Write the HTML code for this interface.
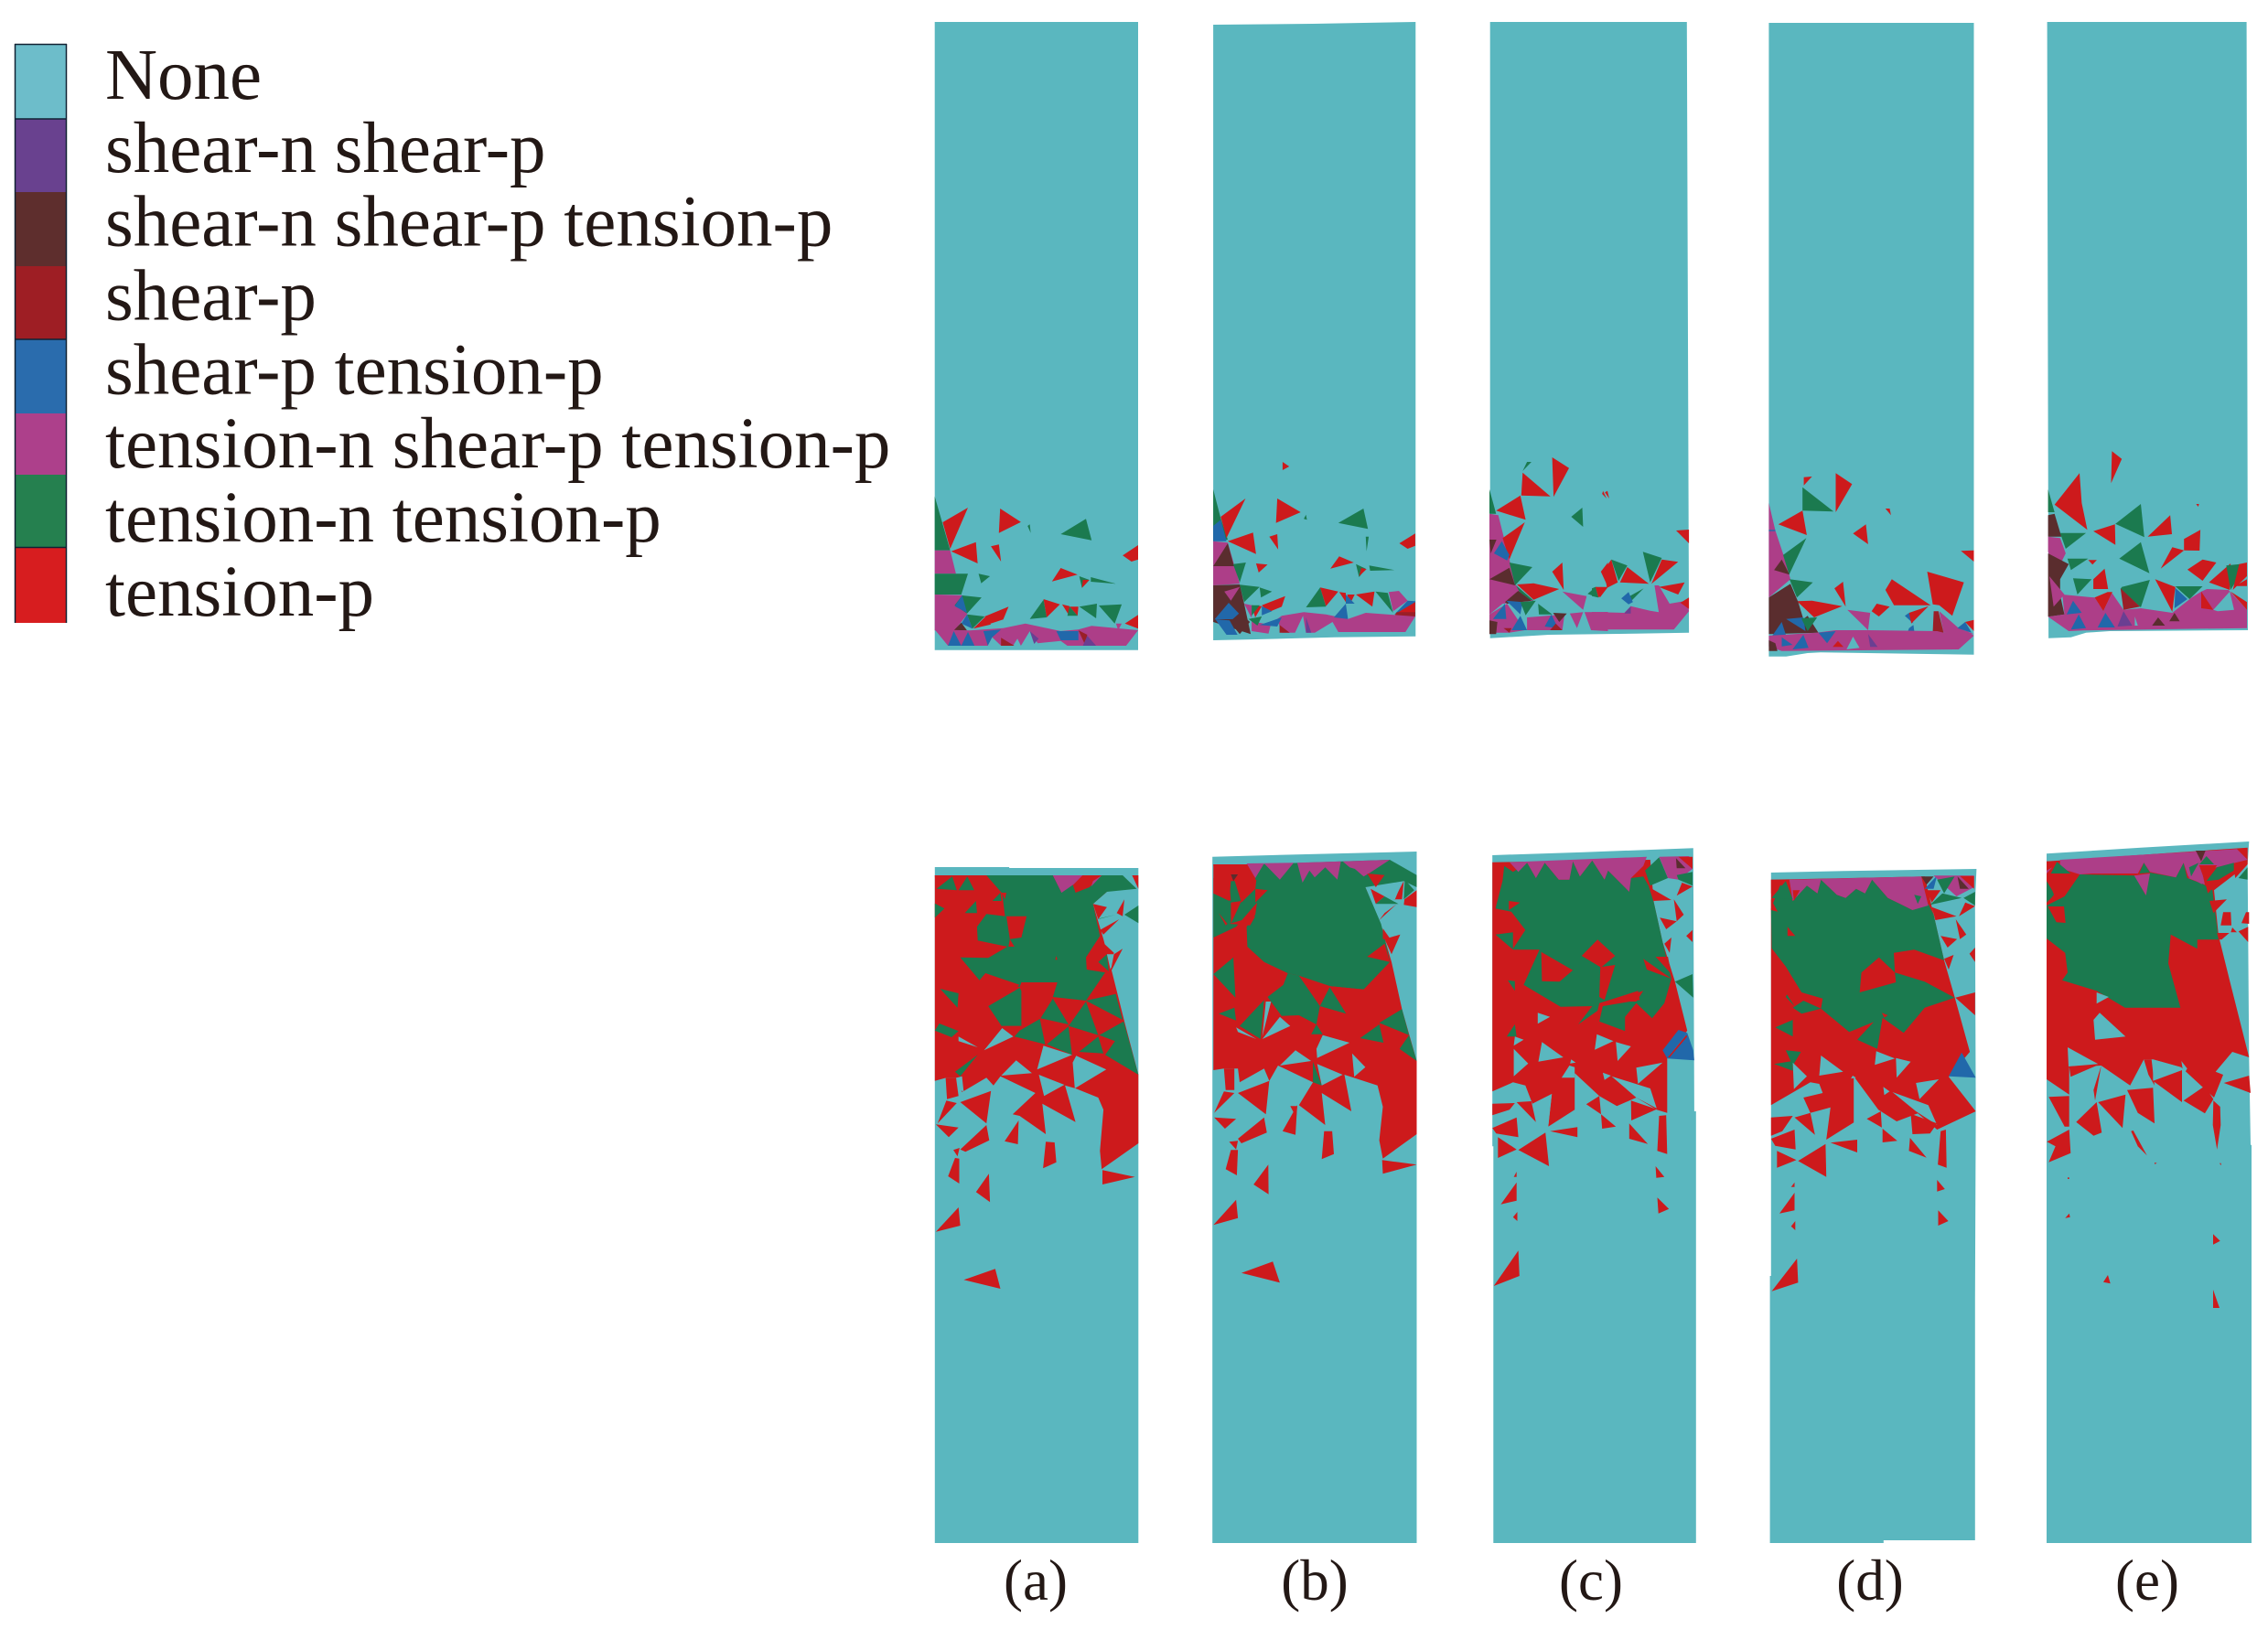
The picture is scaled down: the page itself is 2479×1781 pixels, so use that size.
<!DOCTYPE html>
<html lang="en">
<head>
<meta charset="utf-8">
<title>Failure state distribution</title>
<style>
html,body{margin:0;padding:0;background:#fff;width:2479px;height:1781px;overflow:hidden}
svg{display:block}
text{font-family:"Liberation Serif",serif;fill:#231815}
.lg{font-size:79px}
.cap{font-size:63px;text-anchor:middle}
</style>
</head>
<body>
<svg id="figure" xmlns="http://www.w3.org/2000/svg" width="2479" height="1781" viewBox="0 0 2479 1781">
<rect width="2479" height="1781" fill="#fff"/>
<g>
<rect x="16" y="48" width="57" height="82" fill="#6dbdca"/>
<rect x="16" y="130" width="57" height="80" fill="#69418f"/>
<rect x="16" y="210" width="57" height="81" fill="#5e2e2d"/>
<rect x="16" y="291" width="57" height="80" fill="#9e1e24"/>
<rect x="16" y="371" width="57" height="81" fill="#2a6cad"/>
<rect x="16" y="452" width="57" height="67" fill="#ad408b"/>
<rect x="16" y="519" width="57" height="80" fill="#25804f"/>
<rect x="16" y="599" width="57" height="82" fill="#d71d1f"/>
<path d="M16.5 48V681M72.500 48V681M16 48.500H73M16 130H73M16 371H73M16 598.500H73" fill="none" stroke="#123" stroke-width="1.500"/>
<text class="lg" x="115" y="108">None</text>
<text class="lg" x="115" y="188">shear-n shear-p</text>
<text class="lg" x="115" y="268.500">shear-n shear-p tension-p</text>
<text class="lg" x="115" y="349.500">shear-p</text>
<text class="lg" x="115" y="430.500">shear-p tension-p</text>
<text class="lg" x="115" y="511">tension-n shear-p tension-p</text>
<text class="lg" x="115" y="592">tension-n tension-p</text>
<text class="lg" x="115" y="673">tension-p</text>
</g>
<g id="mesh"></g>
<g>
<text class="cap" x="1132" y="1749">(a)</text>
<text class="cap" x="1437" y="1749">(b)</text>
<text class="cap" x="1739" y="1749">(c)</text>
<text class="cap" x="2044" y="1749">(d)</text>
<text class="cap" x="2347" y="1749">(e)</text>
</g>
</svg>
<script>
const categories = ['none','shear-n-shear-p','shear-n-shear-p-tension-p','shear-p','shear-p-tension-p','tension-n-shear-p-tension-p','tension-n-tension-p','tension-p'];
const stateColors = ['#5ab7bf','#6a3f92','#5a2d2e','#9a1f27','#2168aa','#ad3e88','#1b7a4f','#cd1a1c'];
const N=0,P=1,B=2,D=3,L=4,M=5,G=6,R=7;

const topA = [
[N,45,-1398,505,-1398,505,662,45,662],
[G,45,158,80,335,45,335],[R,120,195,80,330,63,243],[R,138,308,142,378,82,338],
[M,45,335,80,335,93,412,45,412],[G,45,412,120,412,105,480,45,480],[M,45,480,107,482,118,545,90,598,45,598],
[G,107,483,151,490,118,542,90,515],[L,107,483,118,540,90,518],
[R,193,198,240,242,190,278],[R,172,322,190,316,195,372],[G,387,232,400,302,330,282],[G,255,255,260,250,262,278],
[R,505,318,505,365,490,372,470,352],[R,330,393,368,415,310,437],[G,144,412,170,420,150,443],[G,372,420,395,432,378,458],
[R,380,432,395,432,378,458],[G,398,423,455,445,398,438],[R,291,495,328,512,298,555],[G,291,497,298,555,260,560],
[R,333,512,350,518,348,547],[R,350,520,370,520,368,550],[G,350,520,368,550,345,550],[G,372,520,412,510,410,558],
[G,416,516,468,512,452,575],[R,505,547,505,592,475,575],[G,118,545,158,552,130,592],[L,118,545,130,592,105,575],
[R,212,520,200,562,165,578,158,552],[R,158,555,172,578,132,592],[B,105,572,118,598,88,598],
[M,125,598,200,590,250,575,330,600,370,595,400,583,505,597,478,648,75,648,45,595],
[L,88,600,105,648,75,648],[L,120,603,135,648,105,648],[L,155,600,195,595,175,620,165,648],[L,320,600,370,600,370,630,330,630],
[N,240,648,260,600,278,640,330,632,345,648],[N,222,648,232,625,240,648],[N,165,648,175,620,195,648],
[D,195,622,225,648,195,648],[D,370,597,390,612,385,645],[P,260,600,280,625,270,642],[P,390,615,410,648,380,648],[M,455,575,468,575,460,597]
];
const topB = [
[N,675,-1389,900,-1392,1133,-1398,1133,617,950,620,750,628,675,630],
[G,675,135,692,230,708,300,675,305],[L,675,255,692,235,705,305,675,305],[R,748,165,705,295,692,225],[R,765,277,772,347,708,305],
[R,820,165,873,210,817,245],[R,832,45,847,60,832,72],[G,885,218,887,235,880,232],[G,1015,198,1025,265,958,245],
[R,820,282,822,332,802,290],[R,1132,280,1132,320,1115,330,1096,312],[G,1020,290,1027,290,1022,338],
[M,675,305,708,310,735,445,675,450],[B,708,312,722,387,675,387],[G,720,380,749,375,735,440],[R,772,378,798,382,778,408],
[R,960,355,993,375,940,395],[G,998,380,1020,395,1005,423],[R,1022,397,1005,420,1010,393],[G,1028,385,1085,400,1030,402],
[B,675,450,735,447,745,510,760,610,675,570],[G,735,448,780,455,745,505],[G,780,457,808,470,783,490],[M,700,470,735,455,715,500],
[L,710,507,745,560,678,562],[M,745,510,762,515,762,600,800,608,805,580,770,570,760,552],
[R,838,485,830,520,800,538,785,515],[G,917,457,930,520,885,522],[R,917,457,958,470,930,518],[R,960,472,975,475,975,505],
[R,978,480,995,480,985,510],[L,975,480,995,510,975,510],[R,998,480,1040,470,1035,520],[G,1042,470,1070,475,1082,540],
[M,1072,472,1095,468,1115,500,1082,535],[L,1115,500,1132,502,1132,510,1085,545],[R,1132,505,1132,545,1085,545],[D,1132,538,1132,552,1085,552,1090,538],
[M,830,550,880,538,930,545,980,560,1020,540,1132,552,1110,603,958,603,945,570,905,605,885,605,878,550,860,605,830,605,820,560],
[L,975,510,980,560,948,555],[L,830,555,820,585,780,580,800,570],[D,825,580,848,605,825,605],[P,885,555,897,605,885,605],
[R,762,515,785,518,770,555],[L,785,518,808,535,785,548],[G,762,515,780,515,762,550],[G,755,560,785,552,775,582],
[B,735,540,758,570,735,610,712,570],[L,680,562,712,565,730,612,705,612]
];
const topCRight = [
[N,-236,-1398,220,-1398,225,605,100,608,-100,612,-170,618,-236,623]
];
const topCLeft = [
[M,1300,215,1320,220,1345,365,1360,450,1400,500,1330,510,1300,545],
[M,1300,545,1340,510,1380,597,1345,605,1300,605],
[M,1482,542,1512,538,1498,590],[M,1515,538,1568,537,1568,600,1530,597],[M,1385,555,1470,545,1465,597,1385,597],
[G,1300,135,1315,215,1300,215],[G,1385,45,1395,45,1375,75],[R,1442,30,1480,65,1445,160],[R,1375,80,1438,158,1372,155],
[R,1370,155,1382,235,1315,205],[R,1380,243,1345,365,1330,295],[L,1328,305,1345,350,1340,368,1310,345],[B,1300,300,1316,300,1303,345],
[R,1557,140,1565,165,1555,150],[G,1510,195,1512,258,1485,225],[G,1345,375,1397,390,1358,450],[R,1465,375,1468,465,1442,405],
[B,1345,392,1358,450,1300,430],[R,1362,447,1400,443,1458,462,1400,497],[G,1360,450,1400,500,1375,490],[M,1465,470,1520,485,1512,530],
[R,1568,375,1568,455,1552,405],[R,1540,455,1568,455,1550,490],[G,1540,455,1545,490,1522,478],[B,1365,468,1395,500,1340,510,1335,505],
[L,1338,500,1375,505,1370,545],[G,1370,505,1405,500,1382,548],[L,1335,510,1338,560,1308,560],[G,1410,510,1442,545,1412,545],
[L,1370,550,1385,597,1350,597],[L,1440,545,1455,590,1425,585],[B,1444,540,1475,542,1458,570],[D,1450,575,1465,597,1437,597],
[B,1300,565,1318,570,1315,610,1300,610],[D,1332,590,1350,590,1345,605]
];
const topCRightCells = [
[M,145,450,155,450,180,510,220,500,225,535,190,595,10,595,0,575,0,537,75,540,90,518,135,533,155,538],
[R,195,270,225,267,225,312],[R,30,145,36,140,40,165],[G,118,340,162,360,135,440],[R,162,365,200,373,138,445],
[R,45,365,28,400,35,458,60,440],[G,45,365,82,385,62,435],[R,82,390,132,445,65,440],[R,215,440,200,480,155,455],
[R,8,455,35,460,15,490],[G,0,460,8,455,15,490,0,485],[G,120,460,85,510,75,495],[L,85,472,95,505,85,512,68,493],
[P,90,518,90,542,75,542],[R,225,490,225,527,205,507]
];
const topD = [
[N,410,-1395,885,-1395,885,677,530,670,500,672,450,683,410,683],
[M,410,180,425,270,445,355,460,430,410,490],[L,410,268,425,268,425,272,410,272],[R,565,82,603,118,565,210],[R,491,95,510,93,491,122],
[G,488,128,560,208,488,205],[R,488,205,498,285,432,250],[R,635,250,640,315,605,280],[R,680,198,690,198,693,220],
[G,497,295,457,415,443,350],[B,440,365,458,415,422,400],[R,885,335,885,372,855,337],[G,458,430,512,440,475,490],[R,582,438,588,520,562,460],
[R,695,430,785,515,700,515,680,465],[R,777,405,862,440,835,550,805,515,790,512],[R,475,502,510,500,580,518,515,555],
[B,410,490,460,445,478,505,490,560,500,550,525,605,410,610],[R,660,510,690,520,665,552,648,535],[L,725,550,735,540,745,575],
[R,780,518,740,575,735,540],[M,592,530,645,540,640,597],[L,450,560,490,555,495,600],[G,485,558,522,555,500,600],[L,440,570,450,615,418,615],
[L,735,590,745,580,748,608,730,608],[M,805,535,850,590,885,610,815,605],[D,792,535,803,535,815,605,790,600],
[M,410,615,520,605,565,597,640,597,800,600,815,605,870,600,885,615,850,660,440,665,410,650],
[L,847,590,865,570,880,605],[R,865,570,885,563,885,600],[L,525,605,565,600,545,640],[R,570,632,583,652,558,652],
[N,590,660,605,618,620,655],[P,640,610,662,652,645,652],[B,410,630,425,640,430,665,410,665],[L,490,612,502,655,465,660],[L,440,620,465,645,440,650]
];
const topE = [
[N,1055,-1398,1517,-1398,1520,597,1200,600,1145,605,1110,620,1058,623],
[G,1057,135,1072,210,1057,210],[B,1072,215,1088,290,1057,290,1057,220],[M,1057,290,1085,295,1098,345,1075,410,1057,340],
[R,1130,82,1135,180,1148,268,1072,185],[R,1205,10,1228,35,1203,115],[G,1272,183,1280,292,1213,248],[R,1212,250,1213,317,1162,272],
[R,1340,220,1344,282,1288,290],[G,1085,278,1145,278,1098,330],[R,1410,268,1408,336,1372,335,1372,298],[R,1345,325,1372,335,1318,395],
[G,1272,308,1292,410,1222,362],[R,1400,183,1407,183,1405,192],[G,1102,362,1150,362,1110,400],[R,1150,367,1170,367,1160,382],
[B,1057,345,1105,380,1085,430,1085,482,1095,545,1057,553],[R,1415,365,1447,375,1415,435,1380,398],[R,1188,395,1196,462,1162,462,1162,430],
[G,1115,427,1158,430,1125,480],[G,1228,455,1293,432,1272,522,1225,462],[R,1305,430,1352,455,1345,537],[L,1352,458,1380,495,1350,525],
[G,1352,453,1415,453,1385,495],[R,1480,378,1478,465,1430,440],[G,1470,385,1518,378,1480,465],[R,1500,380,1518,375,1518,420,1485,465],
[R,1518,430,1518,452,1490,452],[R,1195,472,1206,472,1185,535,1165,490],[D,1225,460,1270,520,1232,530],
[M,1090,480,1165,490,1185,535,1205,475,1232,530,1272,525,1345,540,1390,490,1412,470,1425,462,1475,465,1518,530,1518,590,1140,598,1105,600,1057,553,1095,545],
[R,1480,470,1518,505,1518,530],[R,1412,470,1440,530,1412,525],[N,1440,530,1478,470,1488,530,1450,535],[L,1115,500,1135,540,1100,545],
[L,1128,545,1145,590,1110,595],[L,1190,540,1212,588,1172,588],[P,1232,535,1252,582,1218,585],[B,1312,555,1328,582,1298,582],
[B,1350,540,1362,568,1338,568],[N,1258,552,1265,582,1258,582],[M,1060,420,1095,480,1070,520]
];
const botA = [
[N,57,84,270,84,270,87,640,87,640,2301,57,2301],
[R,57,111,550,111,550,165,510,205,540,320,565,430,600,590,640,765,640,990,535,1075,530,1015,540,880,525,840,460,810,430,800,460,920,365,860,375,960,300,900,280,895,345,825,245,770,225,800,205,775,135,822,120,775,90,775,57,785],
[G,205,111,395,111,420,168,450,135,460,168,500,150,535,111,595,111,635,155,550,165,510,205,530,310,490,380,492,420,545,430,490,522,395,510,408,462,350,475,305,462,300,478,202,432,185,455,130,380,210,382,265,345,180,325,178,280,205,238,258,245,250,170],
[M,395,111,480,111,455,140,420,168],[M,510,130,535,111,505,148],[R,108,111,150,111,120,163],[R,158,111,202,111,185,138],[R,57,111,105,111,60,155],
[G,107,115,120,160,62,155],[G,150,115,170,160,125,160],[R,262,245,320,245,305,315,272,320],[R,268,345,285,345,272,320],[R,405,375,408,388,402,388],
[G,57,203,85,220,57,250],[G,175,195,178,235,143,235],[G,245,168,248,195,222,195],[R,248,168,262,168,258,190],
[R,202,432,300,470,205,538],[G,300,480,210,540,248,605,305,605,310,500],[R,305,462,408,462,392,510,360,580,305,605],[R,395,512,488,525,440,600],
[G,395,515,440,600,360,580],[G,490,522,575,500,595,585],[R,490,525,598,590,525,635],[G,490,525,525,635,440,605],[R,440,605,525,635,460,700],
[R,358,582,435,603,373,665],[G,358,582,373,665,285,640,300,620],[G,440,607,450,700,378,665],[G,598,590,640,765,545,700,573,655,528,635],
[R,530,640,572,655,542,698],[G,525,640,540,695,470,690],[R,250,605,305,605,285,640],[N,250,612,282,640,198,685],[G,72,483,125,498,122,545],
[G,70,597,125,622,105,642,57,620],[G,180,700,130,770,115,755],[N,125,640,180,675,125,655],[N,290,718,335,760,247,768],[N,368,670,450,700,350,748],
[N,452,725,462,703,548,748,458,810],[N,355,765,428,798,370,835],[N,120,775,135,770,140,822,125,810],
[G,600,240,640,210,640,268],[R,622,111,640,111,640,155],[R,510,205,550,215,525,255],[G,525,255,575,240,530,252],[R,600,190,595,245,578,235],
[R,585,255,540,305,530,290],[R,535,328,570,365,552,430,500,420,490,380],[N,550,370,570,370,560,420],[G,525,395,550,370,555,425],[R,595,352,560,430,570,370],
[R,218,818,205,925,130,855],[R,90,850,120,858,65,925],[R,60,928,125,938,97,970],[R,205,930,213,980,145,1018,130,1010],[R,110,1012,128,1005,122,1033],
[R,115,1038,127,1040,127,1122,95,1098],[R,212,1090,215,1183,175,1150],[R,125,1200,130,1260,60,1280],[R,375,985,400,987,405,1052,367,1072],
[R,297,915,295,993,257,983],[R,537,1078,630,1100,537,1125],[R,140,1438,230,1402,245,1467],[R,88,775,118,775,125,835,92,845]
];
const botB = [
[N,852,50,1120,42,1437,33,1437,2301,852,2301],
[R,855,75,1290,75,1290,150,1330,260,1365,395,1395,550,1437,720,1437,960,1340,1040,1330,980,1340,870,1325,800,1230,765,1250,885,1165,825,1175,930,1100,865,1140,790,1040,735,1015,785,1000,745,930,790,925,745,885,745,855,750],
[G,975,75,1360,60,1437,110,1437,150,1400,130,1290,150,1335,270,1345,315,1360,395,1285,485,1190,475,1100,440,1068,432,1000,395,952,345,950,280,975,240,980,200,920,280,855,315,855,170,900,195,905,130,975,130],
[G,1068,432,1100,440,1160,540,1150,600,1100,570,1050,572,1010,510,1055,470],[G,1188,478,1235,565,1160,540],[R,1190,475,1285,485,1235,565],
[G,912,380,918,512,855,435],[G,870,565,915,545,920,587],[G,1000,520,990,648,930,605],[N,1005,525,1020,525,995,640],[N,1045,575,1075,605,995,648],
[R,1020,530,1045,575,1000,640],[N,920,610,978,648,925,625],[G,1150,600,1168,632,1135,632],[N,1168,635,1245,660,1152,710,1150,680],[N,1090,685,1135,720,1045,735],
[G,1330,600,1342,660,1275,645],[G,1395,550,1415,635,1330,595],[G,1415,635,1437,720,1388,680],[N,1252,695,1290,740,1258,772],[G,1140,722,1165,800,1140,790],[N,1152,730,1225,765,1165,800],
[M,950,72,1085,70,1045,125,1000,72,975,120],[M,1095,70,1220,65,1210,125,1175,85,1145,118,1130,95,1110,135],[M,1225,65,1360,60,1300,105,1285,115,1260,90,1245,85],
[R,855,75,900,75,858,120],[R,900,75,948,75,912,130],[B,905,108,925,108,912,130],[R,975,155,1010,160,975,200],[R,915,125,978,125,975,155,935,200],
[R,855,120,900,125,905,195,855,170],[R,905,200,935,195,905,270],[R,975,245,960,275,900,270,925,262],[R,870,235,895,270,890,275],
[R,1295,105,1345,110,1320,150],[R,1305,155,1345,180,1320,205],[G,1320,205,1345,180,1385,205],[R,1380,205,1330,258,1345,235],[R,1437,160,1437,215,1400,208,1402,190],
[G,1403,125,1430,160,1400,190],[R,1400,130,1395,190,1372,190],[N,1345,180,1395,135,1375,190],[R,1340,285,1362,320,1340,320],[R,1390,305,1365,370,1345,320],[R,1345,335,1360,395,1295,378],
[R,1015,785,1005,895,925,825],[R,885,745,915,745,915,815,890,815],[R,885,820,915,825,857,890],[R,857,905,920,910,888,942],[R,1000,905,1008,955,935,990,925,975],
[R,900,985,925,982,920,1010],[R,905,1012,925,1012,922,1095,890,1075],[R,1012,1060,1013,1157,970,1125],[R,920,1175,925,1235,855,1258],[R,1172,950,1195,950,1200,1025,1165,1042],
[R,1095,865,1090,962,1053,950],[R,1075,868,1095,868,1092,905],[R,1338,1045,1437,1060,1340,1090],[R,935,1415,1025,1378,1045,1447]
];
const botC = [
[N,81,45,340,35,652,22,655,885,660,885,660,2301,84,2301,84,1000,81,1000],
[R,81,68,530,60,540,200,565,330,600,460,635,620,578,712,578,890,548,880,490,840,435,868,385,835,315,760,315,880,240,935,250,828,195,860,175,800,140,790,81,820],
[G,140,100,180,70,205,120,230,70,270,125,300,125,310,65,330,115,365,62,400,125,410,95,470,165,475,120,510,115,525,145,540,200,565,330,590,450,570,530,535,580,490,530,458,575,458,622,385,590,395,540,500,520,495,490,400,525,385,530,380,555,325,600,365,540,275,542,170,470,215,355,140,355,140,300,175,290,135,230,90,220,110,130,115,80],
[R,380,322,430,375,390,413,335,375],[R,220,362,310,422,272,460,222,458],[R,388,412,430,405,400,520,385,510],[R,510,385,590,450,520,420],[R,545,378,580,378,590,435],[R,405,525,510,490,490,525],
[M,130,68,520,50,510,80,475,120,470,165,410,95,400,125,365,62,330,115,310,65,300,125,270,125,230,70,205,120,180,70,155,100],
[G,515,95,555,52,580,120,530,145],[M,555,50,640,48,650,90,610,125,580,120],[B,603,55,630,88,605,88],[R,610,50,650,50,650,90],[G,605,110,650,100,650,145,610,125],[R,620,135,650,148,605,178],
[R,527,150,590,192,540,195],[N,540,150,610,125,590,180],[R,597,190,625,240,605,262],[R,557,250,605,262,575,288],[R,650,290,650,330,632,310],[R,590,315,585,365,570,335],
[G,650,435,652,512,600,460],[G,90,305,140,298,140,355],[R,140,290,175,290,140,352],[R,128,195,160,200,128,225],[G,125,455,145,458,145,490],[G,145,600,150,640,122,640],
[N,145,640,170,650,142,670],[N,210,562,245,575,210,598],[N,378,632,425,655,372,683],[N,432,658,475,672,437,720],[N,142,680,183,728,142,770],[N,222,658,283,708,212,722],
[N,305,715,318,725,302,728],[N,300,735,315,740,315,775,278,775],[N,490,742,565,725,495,795],[N,420,770,530,810,548,875,490,840],[N,395,758,418,768,400,782],[N,195,860,250,828,240,935],
[L,610,618,635,628,578,712,565,685],[L,635,628,652,685,655,718,578,712],[R,632,635,580,708,585,708,635,640],
[R,81,860,145,858,130,880,81,898],[R,150,855,192,852,205,920],[R,81,940,150,905,155,970,92,958],[R,97,970,150,1010,97,1038],[R,232,955,242,1065,155,1012],
[R,245,950,323,937,323,970],[R,390,895,432,935,393,942],[R,475,850,548,878,476,915],[R,470,925,523,992,470,975],[R,575,898,578,1025,550,1015,555,900],[R,385,835,390,895,348,862],
[R,545,1065,570,1100,547,1103],[R,550,1168,583,1205,553,1220],[R,150,1083,150,1100,142,1100],[R,150,1118,150,1178,105,1190],[R,152,1215,152,1245,140,1232],[R,155,1342,158,1425,85,1458]
];
const botD = [
[N,873,102,1080,97,1457,90,1453,200,1455,885,1453,1500,1453,2292,1193,2292,1193,2301,870,2301,870,1425,873,1425],
[R,873,125,1310,115,1335,240,1365,390,1395,510,1438,690,1378,772,1455,885,1345,945,1290,892,1230,918,1178,880,1108,770,1108,922,1030,978,1042,872,985,890,965,840,1020,825,1010,795,985,790,873,865],
[G,873,220,900,140,935,195,975,145,1005,170,1015,125,1060,175,1085,185,1115,155,1140,170,1160,125,1205,185,1240,205,1275,225,1320,205,1335,240,1365,390,1280,355,1222,365,1225,430,1180,380,1130,430,1125,495,1228,462,1225,430,1310,460,1395,512,1310,545,1250,628,1190,578,1175,680,1118,650,1165,592,1095,625,1015,548,1020,515,960,495,915,410,875,350],
[M,925,125,1300,115,1320,210,1275,225,1240,205,1205,185,1160,125,1140,170,1115,155,1085,185,1060,175,1015,125,1005,170,975,145,935,195],
[R,920,280,942,310,920,310],[R,873,125,920,125,873,170],[G,915,130,935,190,875,185],[R,935,160,955,160,938,195],[R,873,190,892,230,873,225],
[G,918,502,940,540,915,510],[G,965,522,1015,548,960,565,935,545],[G,885,610,935,585,935,640],[G,915,685,958,690,935,735],[G,882,730,935,720,935,752],[R,1188,562,1205,570,1195,578],
[N,1015,702,1078,755,1010,768],[N,1172,688,1225,712,1168,733],[N,1228,710,1270,722,1230,775],[N,935,725,975,770,938,812],[N,1105,768,1115,775,1100,778],
[N,1285,792,1350,780,1295,845],[N,1192,805,1210,820,1195,832],[N,1218,822,1320,865,1345,930,1285,885],[L,1415,692,1455,775,1378,770],
[B,1300,115,1335,115,1315,142],[L,1310,155,1345,112,1335,155],[M,1335,112,1450,112,1450,150,1400,180],[G,1345,125,1395,115,1365,170],[B,1403,115,1435,155,1410,155],[R,1410,113,1450,113,1450,155],
[R,1315,160,1355,160,1330,200],[G,1280,175,1300,180,1290,205],[G,1360,170,1415,185,1325,208],[G,1420,185,1453,165,1453,210],[R,1425,200,1453,212,1407,245],[R,1330,215,1400,245,1340,258],
[R,1398,255,1428,305,1410,320],[R,1355,310,1402,320,1375,348],[R,1453,348,1453,395,1437,368],[R,1392,372,1378,420,1365,385],[R,1397,512,1453,495,1453,570],
[R,873,905,935,900,905,950,873,965],[R,940,905,985,890,998,962],[R,873,975,940,945,943,1010,885,998],[R,890,1015,945,1045,890,1070],[R,1028,992,1030,1100,950,1048],[R,1042,988,1118,978,1118,1020],
[R,1145,910,1185,885,1188,938],[R,1190,942,1232,982,1190,987],[R,1270,893,1345,925,1325,958,1275,960],[R,1268,972,1315,1037,1265,1015],[R,1370,945,1372,1070,1347,1060,1355,950],
[R,1345,1110,1367,1140,1345,1148],[R,1348,1210,1377,1245,1348,1260],[R,940,1118,940,1133,930,1133],[R,940,1152,940,1210,897,1220],[R,942,1245,942,1275,930,1262],[R,947,1368,950,1447,875,1475]
];
const botE = [
[N,171,70,480,50,835,30,830,105,835,738,840,1025,843,1025,843,2331,171,2331],
[R,171,95,830,50,830,105,720,190,735,340,775,500,835,738,780,720,725,785,750,795,720,870,612,770,520,745,490,745,445,830,350,765,245,770,245,860,171,810],
[N,345,592,430,670,330,680,325,615],[N,240,705,340,760,243,768],[R,245,768,342,762,250,802],
[G,280,138,460,142,495,205,510,132,595,148,620,100,632,150,685,170,715,190,735,352,665,352,665,382,578,335,570,430,610,575,428,575,335,520,222,485,240,460,232,395,171,348,171,240,230,210],
[N,335,525,375,540,335,562],[R,175,243,228,243,233,297,203,295],[G,171,160,198,205,171,230],[R,171,137,280,137,230,205,171,235,195,205],
[M,215,90,795,55,830,90,790,100,685,125,680,170,635,145,620,100,595,148,510,130,490,100,470,135,320,135,280,138,215,118],[M,458,142,510,135,497,207],
[G,475,135,490,100,510,132],[G,185,135,205,97,250,135],[G,638,115,670,100,645,145],[M,635,150,680,125,690,172],[G,672,105,695,78,720,105],[R,671,108,730,108,690,160],
[G,695,160,730,115,785,100,785,125,735,155],[B,660,60,692,60,678,95],[R,785,125,830,105,790,150],[G,800,150,830,115,830,155],[R,690,162,735,162,700,200],[G,725,185,745,165,715,195],
[R,705,225,762,220,718,265],[R,750,262,775,262,777,305,742,305],[R,780,312,795,328,775,328],[R,800,325,832,310,832,360],[R,825,262,835,262,835,300,810,298],[R,730,330,770,330,745,352,735,352],
[R,171,95,205,95,171,125],[M,171,125,190,115,171,135],
[R,615,780,615,885,520,815],[R,490,745,515,745,525,830,505,795],[R,690,832,718,875,690,922,620,880],[R,520,838,525,955,470,920,435,845],[R,430,860,420,970,340,885],
[R,335,885,352,985,325,995,268,950],[R,350,765,330,880,325,845],[R,178,868,245,865,245,965,230,965],[R,245,975,250,1052,178,1082,200,1030,172,1015],[R,448,980,455,978,500,1060,470,1030],
[R,718,880,740,900,742,960,730,1040,716,960],[R,835,798,840,855,752,822],[R,240,1132,245,1132,245,1137,240,1137],[R,245,1250,248,1262,232,1265],[R,717,1318,740,1340,717,1352],
[R,372,1452,380,1480,357,1475],[R,717,1500,738,1560,717,1560],[R,525,1083,533,1085,525,1088],[R,738,1085,743,1085,743,1093],[N,520,745,610,770,520,815],[N,613,750,632,775,620,795]
];

function xAxis(origin, scale){ return function(v){ return origin + v / scale; }; }
function yAxis(origin, scale){ return function(v){ return origin + v / scale; }; }

const SVGNS = 'http://www.w3.org/2000/svg';
const meshRoot = document.getElementById('mesh');

function drawCells(cells, panelName, x, y){
  const group = document.createElementNS(SVGNS, 'g');
  
  
  meshRoot.appendChild(group);
  cells.forEach(function(cell){
    const pts = [];
    for (let i = 1; i < cell.length; i += 2) {
      pts.push(x(cell[i]).toFixed(1) + ',' + y(cell[i + 1]).toFixed(1));
    }
    const el = document.createElementNS(SVGNS, 'polygon');
    el.setAttribute('points', pts.join(' '));
    el.setAttribute('fill', stateColors[cell[0]]);
    
    
    group.appendChild(el);
  });
}

const yTop = yAxis(490, 3);
drawCells(topA, 'panel-a-top', xAxis(1000, 2.07), yTop);
drawCells(topB, 'panel-b-top', xAxis(1000, 2.07), yTop);
drawCells(topCRight, 'panel-c-top-base', xAxis(1740, 2.12), yTop);
drawCells(topCLeft, 'panel-c-top-left', xAxis(1000, 2.07), yTop);
drawCells(topCRightCells, 'panel-c-top-right', xAxis(1740, 2.12), yTop);
drawCells(topD, 'panel-d-top', xAxis(1740, 2.12), yTop);
drawCells(topE, 'panel-e-top', xAxis(1740, 2.12), yTop);

const yBottom = yAxis(920, 3);
drawCells(botA, 'panel-a-bottom', xAxis(1000, 2.62), yBottom);
drawCells(botB, 'panel-b-bottom', xAxis(1000, 2.62), yBottom);
drawCells(botC, 'panel-c-bottom', xAxis(1600, 2.6), yBottom);
drawCells(botD, 'panel-d-bottom', xAxis(1600, 2.6), yBottom);
drawCells(botE, 'panel-e-bottom', xAxis(2180, 3), yAxis(910, 3));
</script>
</body>
</html>
